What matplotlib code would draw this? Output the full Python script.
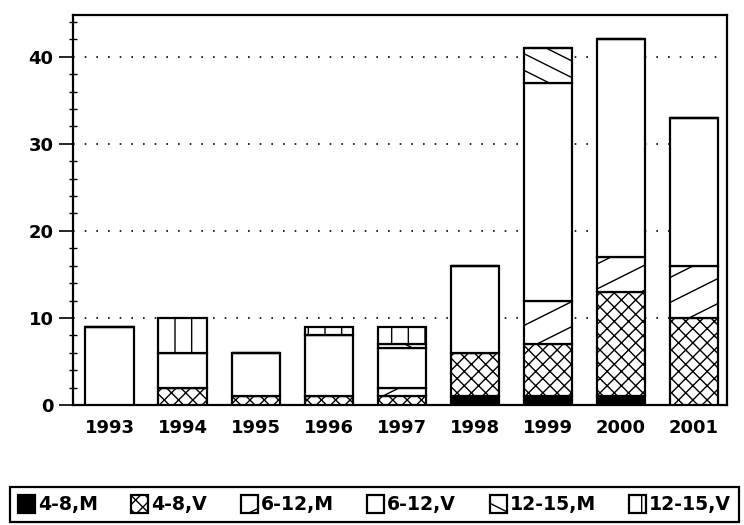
import warnings
import numpy as np
import matplotlib
matplotlib.use("Agg")
import matplotlib.pyplot as plt
from matplotlib import hatch as mhatch
from matplotlib.path import Path
from matplotlib.ticker import MultipleLocator

warnings.filterwarnings("ignore")

# ---- data -------------------------------------------------------------
years = ["1993", "1994", "1995", "1996", "1997", "1998", "1999", "2000", "2001"]
series_names = ["4-8,M", "4-8,V", "6-12,M", "6-12,V", "12-15,M", "12-15,V"]
m_4_8 = [0, 0, 0, 0, 0, 1, 1, 1, 0]
v_4_8 = [0, 2, 1, 1, 1, 5, 6, 12, 10]
m_6_12 = [0, 0, 0, 0, 1, 0, 5, 4, 6]
v_6_12 = [9, 4, 5, 7, 4.5, 10, 25, 25, 17]
m_12_15 = [0, 0, 0, 0, 0.5, 0, 4, 0, 0]
v_12_15 = [0, 4, 0, 1, 2, 0, 0, 0, 0]
y_ticks = [0, 10, 20, 30, 40]


# ---- extra hatch patterns ----------------------------------------------
# 'p': shallow lines rising to the right, 'q': shallow lines falling,
# 'c': a denser diagonal cross-hatch.
class _SlantHatch(mhatch.HatchPatternBase):
    char = "p"
    per_char = 4
    rise = 0.5

    def __init__(self, hatch, density):
        n = hatch.count(self.char) * self.per_char
        if n:
            self.offsets = (np.arange(-2 * n, 3 * n + 1) + 0.5) / n
        else:
            self.offsets = np.array([])
        self.num_vertices = 2 * len(self.offsets)

    def set_vertices_and_codes(self, vertices, codes):
        ext = 0.1
        c = self.offsets
        vertices[0::2, 0] = -ext
        vertices[0::2, 1] = c - self.rise * ext
        vertices[1::2, 0] = 1 + ext
        vertices[1::2, 1] = c + self.rise * (1 + ext)
        codes[0::2] = Path.MOVETO
        codes[1::2] = Path.LINETO


class ShallowRising(_SlantHatch):
    char, per_char, rise = "p", 4, 0.5


class ShallowFalling(_SlantHatch):
    char, per_char, rise = "q", 6, -0.5


class CrossRising(_SlantHatch):
    char, per_char, rise = "c", 7, 1.0


class CrossFalling(_SlantHatch):
    char, per_char, rise = "c", 7, -1.0


mhatch._hatch_types.extend([ShallowRising, ShallowFalling,
                            CrossRising, CrossFalling])

# ---- figure -----------------------------------------------------------
plt.rcParams["font.family"] = ["DejaVu Sans"]
plt.rcParams["font.weight"] = "bold"
plt.rcParams["font.size"] = 13
plt.rcParams["hatch.linewidth"] = 1.0
plt.rcParams["hatch.color"] = "black"

fig = plt.figure(figsize=(7.44, 5.25), dpi=100)
ax = fig.add_axes([73 / 744, 1 - 405 / 525, (727 - 73) / 744, (405 - 15) / 525])

x = np.arange(len(years))
width = 0.66
styles = [
    dict(facecolor="black", hatch=None),
    dict(facecolor="white", hatch="c"),
    dict(facecolor="white", hatch="p"),
    dict(facecolor="white", hatch=None),
    dict(facecolor="white", hatch="q"),
    dict(facecolor="white", hatch="|"),
]
stack = [m_4_8, v_4_8, m_6_12, v_6_12, m_12_15, v_12_15]

bottom = np.zeros(len(years))
handles = []
for name, vals, st in zip(series_names, stack, styles):
    vals = np.asarray(vals, dtype=float)
    bars = ax.bar(x, vals, width, bottom=bottom, label=name,
                  edgecolor="black", linewidth=1.6, zorder=3, **st)
    handles.append(bars)
    bottom += vals

ax.set_xlim(-0.5, len(years) - 0.55)
ax.set_ylim(0, 44.8)
ax.set_xticks(x)
ax.set_xticklabels(years, fontweight="bold")
ax.tick_params(axis="x", length=0, pad=10)

ax.set_yticks(y_ticks)
ax.yaxis.set_minor_locator(MultipleLocator(2))
ax.tick_params(axis="y", which="major", direction="out", length=10,
               width=1.2, pad=4)
ax.tick_params(axis="y", which="minor", direction="inout", length=6,
               width=1.0)

ax.yaxis.grid(True, which="major", color="black", linewidth=1.2,
              linestyle=(0, (1.0, 6.0)), zorder=1)
for sp in ax.spines.values():
    sp.set_linewidth(1.6)

leg = fig.legend(handles=handles, labels=series_names, loc="upper left",
                 bbox_to_anchor=(10 / 744, 1 - 487 / 525), ncol=6,
                 frameon=True, fancybox=False, edgecolor="black",
                 framealpha=1, handlelength=0.9, handleheight=1.1,
                 handletextpad=0.15, columnspacing=1.78, borderpad=0.42,
                 borderaxespad=0.0, prop=dict(weight="bold", size=13.6))
leg.get_frame().set_linewidth(1.6)

fig.savefig("out.png", dpi=100)
